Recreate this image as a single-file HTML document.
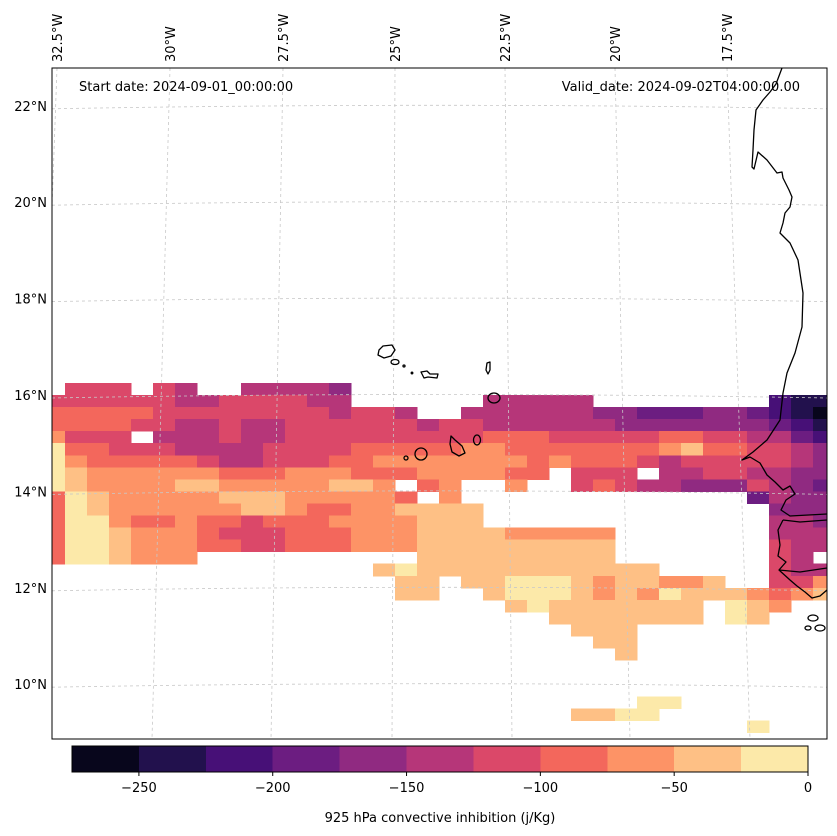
<!DOCTYPE html>
<html><head><meta charset="utf-8"><style>
html,body{margin:0;padding:0;background:#fff;}
svg{display:block;font-family:"DejaVu Sans","Liberation Sans",sans-serif;}
</style></head><body>
<svg id="chart" width="837" height="836" viewBox="0 0 837 836" xmlns="http://www.w3.org/2000/svg">
<defs><clipPath id="mapclip"><rect x="52" y="68" width="775" height="671"/></clipPath></defs>
<rect x="0" y="0" width="837" height="836" fill="#fff"/>
<g id="cells" clip-path="url(#mapclip)" shape-rendering="crispEdges"></g>
<g id="grid" clip-path="url(#mapclip)" stroke="#c8c8c8" stroke-width="0.8" stroke-dasharray="3,3" fill="none"></g>
<g id="coast" clip-path="url(#mapclip)" stroke="#000" stroke-width="1.3" fill="none" stroke-linejoin="round">
<path d="M782,68 L776,84 L770,92 L763,100 L756,110 L754,130 L753,150 L752,167 L754,169 L758,152 L767,160 L777,173 L782,172 L783,178 L789,190 L792,197 L790,207 L785,213 L783,223 L780,233 L790,243 L798,260 L803,293 L802,327 L795,353 L787,373 L783,393 L780,420 L767,440 L753,452 L742,460 L750,457 L760,463 L767,475 L775,482 L783,490 L790,486 L795,494 L786,500 L781,510 L790,516 L827,514 M783,520 L778,530 L780,545 L778,556 L786,562 L779,570 L790,580 L797,586 L805,592 L812,598 L820,596 L827,590"/>
<path d="M783,520 L800,522 L827,520"/>
<path d="M779,570 L800,572 L827,568"/>
<ellipse cx="813" cy="618" rx="5" ry="3"/>
<ellipse cx="820" cy="628" rx="5" ry="3"/>
<ellipse cx="808" cy="628" rx="3" ry="2"/>
<path d="M379,350 L383,346 L392,345 L395,350 L391,356 L384,358 L378,355 Z"/>
<ellipse cx="395" cy="362" rx="4" ry="2.5"/>
<circle cx="404" cy="366" r="1"/>
<circle cx="412" cy="373" r="0.8"/>
<path d="M421,372 L427,371 L430,374 L438,374 L437,378 L428,377 L424,378 Z"/>
<path d="M487,363 L490,362 L490,370 L488,374 L486,370 Z"/>
<ellipse cx="494" cy="398" rx="6" ry="5"/>
<ellipse cx="477" cy="440" rx="3.5" ry="5"/>
<path d="M451,436 L455,440 L462,446 L465,453 L459,456 L452,452 L450,444 Z"/>
<ellipse cx="421" cy="454" rx="6" ry="6"/>
<circle cx="406" cy="458" r="2"/>
</g>
<rect x="52" y="68" width="775" height="671" fill="none" stroke="#000" stroke-width="1"/>
<text x="79" y="91" font-size="13">Start date: 2024-09-01_00:00:00</text>
<text x="800" y="91" font-size="13" text-anchor="end">Valid_date: 2024-09-02T04:00:00.00</text>
<g id="latlabels" font-size="13" text-anchor="end"></g>
<g id="lonlabels" font-size="13"></g>
<g id="cbar" shape-rendering="crispEdges"></g>
<g id="cbticks" font-size="13" text-anchor="middle"></g>
<text x="440" y="822" font-size="13" text-anchor="middle">925 hPa convective inhibition (j/Kg)</text>
</svg>
<script>
// ---- data ----
const levels = [-275,-250,-225,-200,-175,-150,-125,-100,-75,-50,-25,0];
const levelColors = ["#08061c","#22114d","#471077","#6c1d81","#902a81","#b63679","#db4869","#f3675c","#fd9366","#fec085","#fce9a9"];
const cbTickValues = [-250,-200,-150,-100,-50,0];
const latTicks = [22,20,18,16,14,12,10];
const lonTicks = [-32.5,-30,-27.5,-25,-22.5,-20,-17.5];
const gridLonStart = -32.57, gridLonStep = 0.473;
const gridLatStart = 16.5, gridLatStep = 0.25;
const D = n => ".".repeat(n);
// bin codes per row (north to south): '.' = no data, 0-9,'a' = contour bin
const cinRows = [
D(36),
".666.65..55554" + D(22),
"66666655666655" + D(6) + "55555" + D(8) + "211",
"77777666666665665..55555544333443210",
"777766556556666665665555554444444321",
"8666.5556556666666667776666677665532",
"a77666555566667777788777777789776654",
"a87777765566677888888878777656666654",
"a9888888777888777888877.666.55665544",
"a988889988888998.78..8..676554446543",
"7a988888999888887.8" + D(13) + "3544",
"7a988888899877889999" + D(13) + "444",
"7aa87787767778888999" + D(13) + "554",
"7aa98887666777888999988888" + D(7) + "555",
"7aa98887766777888999999999" + D(7) + "655",
"7aa9888" + D(10) + "999999999" + D(7) + "65.",
D(15) + "9a99999999999" + D(5) + "655",
D(16) + "99.99aaa9899889..668",
D(16) + "99..9aaa9898a9998789",
D(21) + "9a9999999.a98..",
D(23) + "9999999.a9...",
D(24) + "999" + D(9),
D(25) + "99" + D(9),
D(26) + "9" + D(9),
D(36),
D(36),
D(36),
D(27) + "aa" + D(7),
D(24) + "99aa" + D(8),
D(32) + "a" + D(3)
];
// parse bin codes into CIN values (bin midpoints, J/kg)
const cinValues = cinRows.map(r => r.split("").map(ch => ch === "." ? null : -275 + 25 * parseInt(ch, 16) + 12.5));

// ---- axis functions ----
const xOfLon = lon => 395 + (lon + 25) * 46.5;
const yOfLat = lat => 395 - (lat - 16) * 48.2;
const cbX = v => 72 + (v - levels[0]) / (levels[levels.length-1] - levels[0]) * 736;
const colorOf = v => { for (let i = 0; i < levels.length - 1; i++) if (v >= levels[i] && v < levels[i+1]) return levelColors[i]; return levelColors[levelColors.length-1]; };

const NS = "http://www.w3.org/2000/svg";
function mk(tag, attrs, parent){ const e = document.createElementNS(NS, tag); for (const k in attrs) e.setAttribute(k, attrs[k]); parent.appendChild(e); return e; }

// field cells
const cells = document.getElementById("cells");
cinValues.forEach((row, r) => row.forEach((v, c) => {
  if (v === null) return;
  const lonW = gridLonStart + c * gridLonStep, lonE = lonW + gridLonStep;
  const latN = gridLatStart - r * gridLatStep, latS = latN - gridLatStep;
  const x0 = xOfLon(lonW), x1 = xOfLon(lonE), y0 = yOfLat(latN), y1 = yOfLat(latS);
  const el = mk("rect", {x: x0.toFixed(1), y: y0.toFixed(1), width: (x1 - x0 + 0.6).toFixed(1), height: (y1 - y0 + 0.6).toFixed(1), fill: colorOf(v)}, cells);
  
  
}));

// graticule
const grid = document.getElementById("grid");
const topX = {"-32.5":57,"-30":170,"-27.5":283,"-25":395,"-22.5":505,"-20":615,"-17.5":727};
const botX = {"-32.5":33,"-30":152,"-27.5":271,"-25":392,"-22.5":512,"-20":630,"-17.5":750};
lonTicks.forEach(lon => {
  const el = mk("line", {x1: topX[lon], y1: 68, x2: botX[lon], y2: 739}, grid);
  
  
});
latTicks.forEach(lat => {
  const y = yOfLat(lat);
  const el = mk("path", {d: `M52,${y+3} Q440,${y-4} 827,${y+3}`}, grid);
  
  
});

// lat labels
const latG = document.getElementById("latlabels");
latTicks.forEach(lat => {
  const t = mk("text", {x: 47, y: yOfLat(lat) + 5}, latG);
  t.textContent = lat + "°N";
  
  
});
// lon labels (rotated)
const lonG = document.getElementById("lonlabels");
lonTicks.forEach(lon => {
  const x = topX[lon] + 5;
  const t = mk("text", {x: x, y: 62, transform: `rotate(-90 ${x} 62)`}, lonG);
  t.textContent = Math.abs(lon) + "°W";
  
  
});

// colorbar
const cb = document.getElementById("cbar");
levelColors.forEach((col, i) => {
  const x0 = cbX(levels[i]), x1 = cbX(levels[i+1]);
  const el = mk("rect", {x: x0, y: 746, width: x1 - x0 + 0.5, height: 26, fill: col}, cb);
  
  
});
const frame = mk("rect", {x: 72, y: 746, width: 736, height: 26, fill: "none", stroke: "#000", "stroke-width": 1}, cb);


const tg = document.getElementById("cbticks");
cbTickValues.forEach(v => {
  const x = cbX(v);
  const l = mk("line", {x1: x, y1: 772, x2: x, y2: 776, stroke: "#000"}, tg);
  
  
  const t = mk("text", {x: x, y: 792}, tg);
  t.textContent = v < 0 ? "\u2212" + Math.abs(v) : String(v);
  
  
});
</script>
</body></html>
